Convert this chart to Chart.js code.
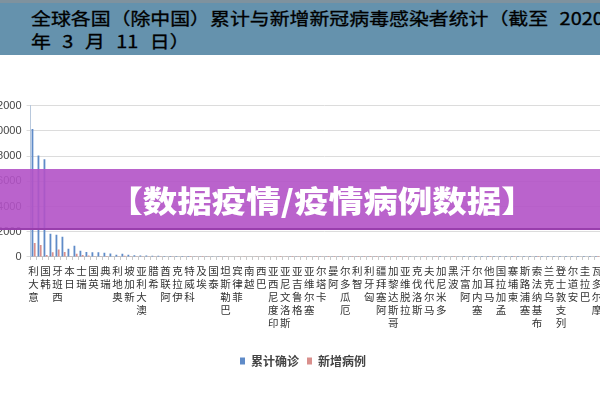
<!DOCTYPE html>
<html lang="zh">
<head>
<meta charset="UTF-8">
<title>全球各国（除中国）累计与新增新冠病毒感染者统计</title>
<script src="https://cdn.jsdelivr.net/npm/chart.js"></script>
<style>
  html, body { margin: 0; width: 600px; height: 400px; overflow: hidden; }
  body { position: relative; background: #fff; font-family: "Noto Sans CJK SC", sans-serif; }
  #header { position: absolute; left: 0; top: 0; width: 600px; height: 55px; background: #6592ad; border-top: 3px solid #7f929e; box-sizing: border-box; overflow: hidden; }
  #header div { position: absolute; left: 31px; font-size: 17px; color: #000; -webkit-text-stroke: 0.3px #000; white-space: nowrap; word-spacing: 6px; transform: scaleX(1.17); transform-origin: left center; }
  #chartWrap { position: absolute; left: -14px; top: 94px; width: 634px; height: 283px; }
  #banner { position: absolute; left: 0; top: 169px; width: 600px; height: 61px; background: rgba(178, 82, 198, 0.9); border-bottom: 2px solid rgba(150, 60, 170, 0.9); box-sizing: border-box; overflow: hidden; }
  #banner span { position: absolute; left: 322px; top: 0; font-size: 30px; font-weight: 900; color: #fff; white-space: nowrap; line-height: 61px; transform: translateX(-50%) scaleX(1.15); }
</style>
</head>
<body>
<div id="header">
  <div style="top:2px">全球各国（除中国）累计与新增新冠病毒感染者统计（截至 2020</div>
  <div style="top:25px">年 3 月 11 日）</div>
</div>
<div id="chartWrap"><canvas id="chart"></canvas></div>
<div id="banner"><span>【数据疫情/疫情病例数据】</span></div>

<script>
// countries, sorted roughly by cumulative cases
const countries = [
  '意大利', '伊朗', '韩国', '法国', '西班牙', '德国', '日本', '美国', '瑞士', '挪威',
  '英国', '荷兰', '瑞典', '比利时', '奥地利', '丹麦', '新加坡', '马来西亚', '澳大利亚', '巴林',
  '希腊', '加拿大', '阿联酋', '以色列', '伊拉克', '冰岛', '科威特', '黎巴嫩', '埃及', '圣马力诺',
  '泰国', '印度', '巴勒斯坦', '葡萄牙', '菲律宾', '芬兰', '越南', '爱尔兰', '巴西', '捷克',
  '印度尼西亚', '罗马尼亚', '斯洛文尼亚', '波兰', '格鲁吉亚', '沙特阿拉伯', '塞尔维亚', '俄罗斯', '卡塔尔', '巴基斯坦',
  '阿曼', '克罗地亚', '厄瓜多尔', '阿根廷', '智利', '爱沙尼亚', '匈牙利', '秘鲁', '阿塞拜疆', '阿尔巴尼亚',
  '哥斯达黎加', '白俄罗斯', '拉脱维亚', '墨西哥', '斯洛伐克', '卢森堡', '马尔代夫', '保加利亚', '多米尼加', '北马其顿',
  '波黑', '南非', '阿富汗', '阿尔及利亚', '塞内加尔', '摩洛哥', '马耳他', '突尼斯', '孟加拉国', '喀麦隆',
  '柬埔寨', '尼日利亚', '塞浦路斯', '约旦', '布基纳法索', '尼泊尔', '乌克兰', '不丹', '列支敦士登', '多哥',
  '安道尔', '梵蒂冈', '巴拉圭', '摩纳哥', '摩尔多瓦', '哥伦比亚', '斯里兰卡', '文莱'
];

const totalCases = [
  10149, 8042, 7755, 1840, 1760, 1600, 650, 880, 491, 400,
  373, 382, 326, 267, 182, 262, 166, 129, 112, 110,
  89, 93, 74, 76, 71, 81, 69, 61, 59, 62,
  53, 60, 25, 41, 33, 40, 31, 34, 34, 31,
  27, 29, 31, 22, 24, 20, 12, 20, 24, 16,
  18, 17, 15, 19, 17, 13, 12, 11, 11, 10,
  13, 9, 10, 7, 7, 7, 8, 6, 5, 7,
  7, 7, 4, 5, 4, 3, 5, 2, 3, 2,
  3, 2, 2, 1, 2, 1, 1, 1, 1, 1,
  1, 1, 1, 1, 3, 3, 1, 1
];

const newCases = [
  1100, 950, 150, 370, 600, 390, 55, 250, 160, 110,
  52, 61, 78, 28, 51, 90, 6, 12, 20, 15,
  16, 16, 0, 18, 0, 16, 4, 20, 4, 11,
  0, 16, 6, 0, 9, 10, 0, 13, 9, 7,
  8, 4, 8, 5, 9, 5, 7, 3, 6, 2,
  2, 5, 0, 2, 4, 3, 3, 2, 2, 4,
  4, 3, 2, 0, 0, 2, 0, 2, 0, 0,
  2, 0, 0, 0, 0, 0, 1, 0, 0, 0,
  1, 0, 0, 0, 2, 0, 0, 0, 0, 0,
  0, 0, 0, 0, 2, 0, 0, 1
];

const yTicks = [0, 2000, 4000, 6000, 8000, 10000, 12000];

const ctx = document.getElementById('chart').getContext('2d');
new Chart(ctx, {
  type: 'bar',
  data: {
    labels: countries,
    datasets: [
      { label: '累计确诊', data: totalCases, backgroundColor: '#5f8bc8' },
      { label: '新增病例', data: newCases, backgroundColor: '#d98f8c' }
    ]
  },
  options: {
    responsive: true,
    maintainAspectRatio: false,
    animation: false,
    categoryPercentage: 0.75,
    barPercentage: 0.8,
    layout: { padding: { top: 4, right: 0, bottom: 0, left: 0 } },
    plugins: {
      tooltip: { enabled: false },
      legend: {
        position: 'bottom',
        labels: {
          boxWidth: 5, boxHeight: 7, padding: 8,
          color: '#444',
          font: { family: '"Noto Sans CJK SC", sans-serif', size: 12, weight: 'bold' }
        }
      }
    },
    scales: {
      x: {
        afterFit: axis => { axis.height += 13; },
        grid: { drawOnChartArea: false, drawTicks: true, tickLength: 3, color: '#c8c8c8' },
        border: { color: '#c8c8c8' },
        ticks: {
          autoSkip: false, maxRotation: 0, minRotation: 0, padding: 5,
          color: '#333',
          font: { family: '"Noto Sans CJK SC", sans-serif', size: 10.5, lineHeight: 1.22 },
          // every other country, characters stacked, read bottom-up
          callback: (v, i) => i % 2 === 0 ? countries[i].split('').reverse() : ''
        }
      },
      y: {
        min: 0, max: 12000,
        afterBuildTicks: axis => { axis.ticks = yTicks.map(v => ({ value: v })); },
        grid: { color: '#dcdcdc', tickLength: 4 },
        border: { color: '#b8c8dc' },
        ticks: {
          padding: 5, color: '#444',
          font: { family: '"Liberation Sans", sans-serif', size: 11 },
          callback: v => String(v)
        }
      }
    }
  }
});
</script>
</body>
</html>
